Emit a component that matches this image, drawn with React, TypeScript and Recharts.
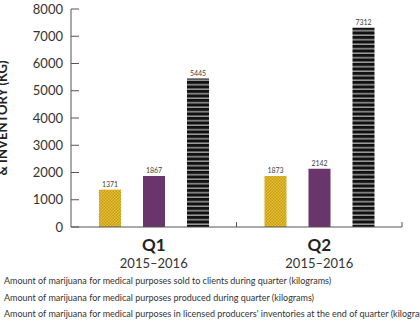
import { BarChart, Bar, XAxis, YAxis, Legend, LabelList } from 'recharts';

const quarters = ['Q1', 'Q2'];
const fiscalYears = ['2015–2016', '2015–2016'];
const sold = [1371, 1873];
const produced = [1867, 2142];
const inventory = [5445, 7312];
const yTicks = [0, 1000, 2000, 3000, 4000, 5000, 6000, 7000, 8000];
const seriesNames = [
  'Amount of marijuana for medical purposes sold to clients during quarter (kilograms)',
  'Amount of marijuana for medical purposes produced during quarter (kilograms)',
  "Amount of marijuana for medical purposes in licensed producers' inventories at the end of quarter (kilograms)",
];

const data = quarters.map((q, i) => ({
  quarter: q,
  year: fiscalYears[i],
  sold: sold[i],
  produced: produced[i],
  inventory: inventory[i],
}));

const FONT = 'Lato, "Open Sans", sans-serif';
const AXIS = '#555';

const YTick = (props: any) => {
  const { x, y, payload } = props;
  return (
    <g>
      <line x1={x} y1={y} x2={x + 8} y2={y} stroke={AXIS} strokeWidth={1} />
      <text x={x - 8} y={y} dy={4.5} textAnchor="end" fontSize={13} fill="#333" fontFamily={FONT}>
        {payload.value}
      </text>
    </g>
  );
};

const XTick = (props: any) => {
  const { x, y, payload, index, width } = props;
  const band = width / data.length;
  return (
    <g>
      <line x1={x + band / 2} y1={y} x2={x + band / 2} y2={y - 5} stroke={AXIS} strokeWidth={1} />
      <text x={x} y={y + 24} textAnchor="middle" fontSize={17} fontWeight={700} fill="#222" fontFamily={FONT}>
        {payload.value}
      </text>
      <text x={x} y={y + 41} textAnchor="middle" fontSize={13} fill="#333" fontFamily={FONT}>
        {data[index].year}
      </text>
    </g>
  );
};

const LegendLines = () => (
  <div style={{ fontFamily: FONT, fontSize: 9, color: '#333', whiteSpace: 'nowrap', lineHeight: '16.5px' }}>
    {seriesNames.map((n) => (
      <div key={n}>{n}</div>
    ))}
  </div>
);

export default function App() {
  return (
    <div style={{ position: 'absolute', left: 0, top: 0, width: 420, height: 322, overflow: 'hidden', background: '#fff' }}>
      <BarChart
        width={420}
        height={322}
        data={data}
        margin={{ top: 9, right: 18, left: 0, bottom: 45 }}
        barCategoryGap={28}
        barGap={22}
      >
        <defs>
          <pattern id="checker" width="3" height="3" patternUnits="userSpaceOnUse">
            <rect width="3" height="3" fill="#e8c22e" />
            <rect width="1.5" height="1.5" fill="#c49b1c" />
            <rect x="1.5" y="1.5" width="1.5" height="1.5" fill="#c49b1c" />
          </pattern>
          <pattern id="stripes" width="4" height="4.5" patternUnits="userSpaceOnUse">
            <rect width="4" height="4.5" fill="#111" />
            <rect y="3" width="4" height="1.5" fill="#9a9a9a" />
          </pattern>
        </defs>
        <XAxis
          dataKey="quarter"
          height={50}
          axisLine={{ stroke: AXIS }}
          tickLine={false}
          tickSize={0}
          tickMargin={0}
          tick={<XTick />}
        />
        <YAxis
          width={71}
          domain={[0, 8000]}
          ticks={yTicks}
          axisLine={{ stroke: AXIS }}
          tickLine={false}
          tickSize={0}
          tickMargin={0}
          tick={<YTick />}
          label={{
            value: '& INVENTORY (KG)',
            angle: -90,
            position: 'insideLeft',
            offset: 0,
            dx: 2,
            style: { fontFamily: FONT, fontSize: 13, fontWeight: 700, fill: '#222', textAnchor: 'middle' },
          }}
        />
        <Legend
          layout="horizontal"
          verticalAlign="middle"
          align="center"
          wrapperStyle={{ position: 'absolute', left: 4, top: 273, width: 480 }}
          content={<LegendLines />}
        />
        <Bar dataKey="sold" name={seriesNames[0]} fill="url(#checker)" barSize={22} isAnimationActive={false}>
          <LabelList dataKey="sold" position="top" offset={3} style={{ fontSize: 7, fill: '#444', fontFamily: FONT }} />
        </Bar>
        <Bar dataKey="produced" name={seriesNames[1]} fill="#6a356b" barSize={22} isAnimationActive={false}>
          <LabelList dataKey="produced" position="top" offset={3} style={{ fontSize: 7, fill: '#444', fontFamily: FONT }} />
        </Bar>
        <Bar dataKey="inventory" name={seriesNames[2]} fill="url(#stripes)" barSize={22} isAnimationActive={false}>
          <LabelList dataKey="inventory" position="top" offset={3} style={{ fontSize: 7, fill: '#444', fontFamily: FONT }} />
        </Bar>
      </BarChart>
    </div>
  );
}
